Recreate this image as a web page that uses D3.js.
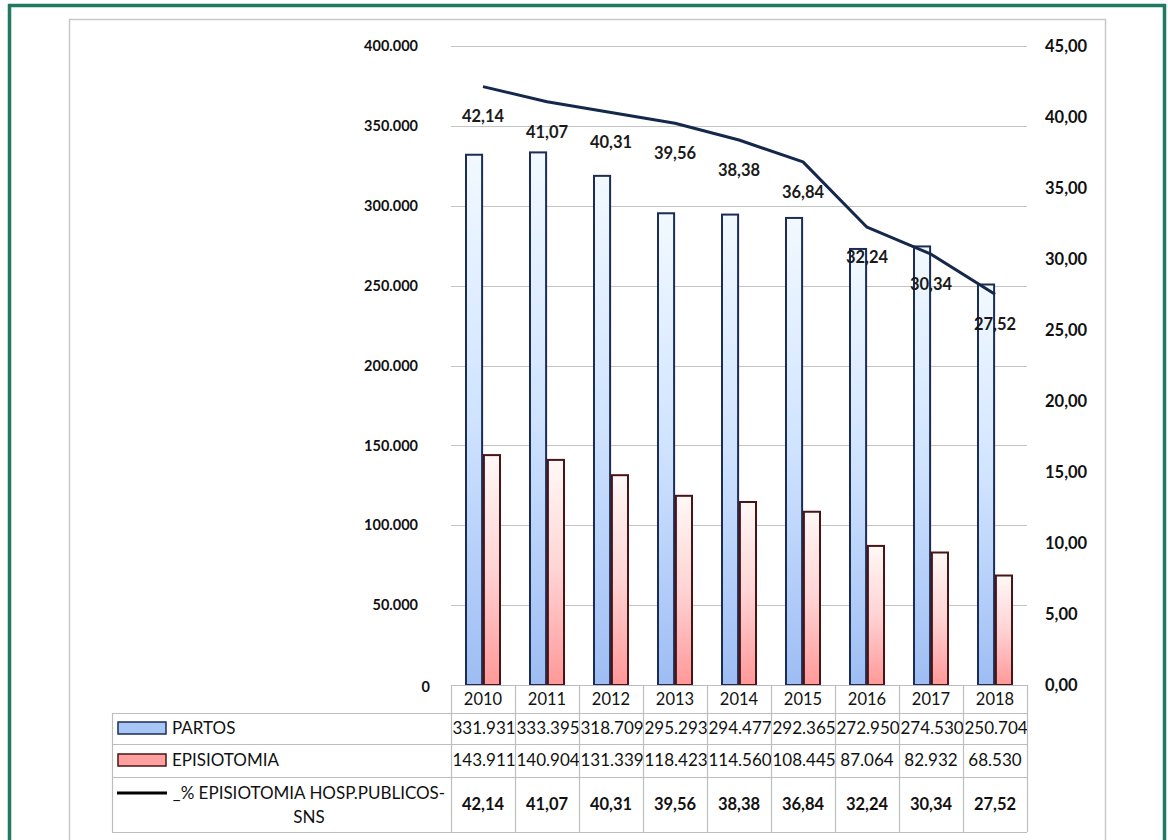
<!DOCTYPE html>
<html>
<head>
<meta charset="utf-8">
<script src="https://cdn.jsdelivr.net/npm/d3@7"></script>
<style>
  body { margin: 0; background: #fff; }
  svg { display: block; font-family: Lato, "Open Sans", sans-serif; }
</style>
</head>
<body>
<svg id="chart" width="1168" height="840"></svg>
<script>

    // values
    const years = ["2010", "2011", "2012", "2013", "2014", "2015", "2016", "2017", "2018"];
    const partos = [331931, 333395, 318709, 295293, 294477, 292365, 272950, 274530, 250704];
    const episiotomia = [143911, 140904, 131339, 118423, 114560, 108445, 87064, 82932, 68530];
    const pctEpisiotomia = [42.14, 41.07, 40.31, 39.56, 38.38, 36.84, 32.24, 30.34, 27.52];
    const leftTicks = [0, 50000, 100000, 150000, 200000, 250000, 300000, 350000, 400000];
    const rightTicks = [0, 5, 10, 15, 20, 25, 30, 35, 40, 45];
    const seriesNames = ["PARTOS", "EPISIOTOMIA", "_% EPISIOTOMIA HOSP.PUBLICOS-SNS"];

    const es = d3.formatLocale({ decimal: ",", thousands: ".", grouping: [3], currency: ["", " €"] });
    const fmtInt = es.format(",d");
    const fmtPct = es.format(",.2f");

    const svg = d3.select("#chart");

    const plot = { left: 451, right: 1027, top: 46, bottom: 685 };
    const rows = { head: [685, 713], partos: [713, 744], epi: [744, 777], pct: [777, 832] };

    // frames
    svg.append("rect").attr("x", 69.5).attr("y", 19.5).attr("width", 1036).attr("height", 900)
        .attr("fill", "none").attr("stroke", "#c8c8c8").attr("stroke-width", 1.5);
    svg.append("rect").attr("x", 9.5).attr("y", 5.5).attr("width", 1155).attr("height", 900)
        .attr("fill", "none").attr("stroke", "#1f7a5f").attr("stroke-width", 3.5);

    const x = d3.scaleBand().domain(years).range([plot.left, plot.right]);
    const xSeries = d3.scaleBand().domain(["partos", "episiotomia"]).range([-17, 17]).paddingInner(0.1);
    const yLeft = d3.scaleLinear().domain([0, 400000]).range([plot.bottom, plot.top]);
    const yRight = d3.scaleLinear().domain([0, 45]).range([plot.bottom, plot.top]);

    // gradients
    const defs = svg.append("defs");
    function addGradient(id, top, mid, bottom) {
        const g = defs.append("linearGradient").attr("id", id)
            .attr("x1", 0).attr("y1", 0).attr("x2", 0).attr("y2", 1);
        g.append("stop").attr("offset", "0%").attr("stop-color", top);
        g.append("stop").attr("offset", "50%").attr("stop-color", mid);
        g.append("stop").attr("offset", "100%").attr("stop-color", bottom);
    }
    addGradient("blueGrad", "#f2f9ff", "#cfe3ff", "#9dbdf3");
    addGradient("redGrad", "#fff8f8", "#ffd3d3", "#ff9898");

    // gridlines
    svg.append("g").selectAll("line").data(leftTicks.filter(d => d > 0)).join("line")
        .attr("x1", plot.left).attr("x2", plot.right)
        .attr("y1", d => Math.round(yLeft(d)) + 0.5).attr("y2", d => Math.round(yLeft(d)) + 0.5)
        .attr("stroke", "#c4c4c4").attr("stroke-width", 1.2);

    // left axis
    const leftAxis = svg.append("g").attr("transform", "translate(418,0)")
        .call(d3.axisLeft(yLeft).tickValues(leftTicks).tickFormat(d => d === 0 ? "0" : fmtInt(d)).tickSize(0).tickPadding(0));
    leftAxis.select(".domain").remove();
    leftAxis.selectAll("text").attr("font-size", 14.5).attr("font-weight", "bold").attr("fill", "#111")
        .attr("font-family", "Lato, sans-serif")
        .attr("dx", d => d === 0 ? 12 : 0).attr("dy", d => d === 0 ? "0.45em" : "0.32em");

    // right axis
    const rightAxis = svg.append("g").attr("transform", "translate(1045,0)")
        .call(d3.axisRight(yRight).tickValues(rightTicks).tickFormat(fmtPct).tickSize(0).tickPadding(0));
    rightAxis.select(".domain").remove();
    rightAxis.selectAll("text").attr("font-size", 16.5).attr("font-weight", "bold").attr("fill", "#111")
        .attr("font-family", "Lato, sans-serif");

    // bars
    const bars = svg.append("g");
    bars.selectAll(".partos").data(years).join("rect").attr("class", "partos")
        .attr("x", d => x(d) + x.bandwidth() / 2 + xSeries("partos"))
        .attr("width", xSeries.bandwidth())
        .attr("y", (d, i) => yLeft(partos[i]))
        .attr("height", (d, i) => yLeft(0) - yLeft(partos[i]))
        .attr("fill", "url(#blueGrad)").attr("stroke", "#1c2c55").attr("stroke-width", 2);
    bars.selectAll(".epi").data(years).join("rect").attr("class", "epi")
        .attr("x", d => x(d) + x.bandwidth() / 2 + xSeries("episiotomia"))
        .attr("width", xSeries.bandwidth())
        .attr("y", (d, i) => yLeft(episiotomia[i]))
        .attr("height", (d, i) => yLeft(0) - yLeft(episiotomia[i]))
        .attr("fill", "url(#redGrad)").attr("stroke", "#4a1414").attr("stroke-width", 2);

    // percentage line
    const line = d3.line()
        .x((d, i) => x(years[i]) + x.bandwidth() / 2)
        .y(d => yRight(d));
    svg.append("path").datum(pctEpisiotomia).attr("d", line)
        .attr("fill", "none").attr("stroke", "#14284b").attr("stroke-width", 3).attr("stroke-linejoin", "round");

    svg.append("g").selectAll("text").data(pctEpisiotomia).join("text")
        .attr("x", (d, i) => x(years[i]) + x.bandwidth() / 2)
        .attr("y", d => yRight(d) + 30)
        .attr("dy", "0.35em")
        .attr("text-anchor", "middle").attr("font-size", 16.5).attr("font-weight", "bold").attr("fill", "#1a1a1a")
        .text(d => fmtPct(d));

    // data table
    const table = svg.append("g").attr("stroke", "#bdbdbd").attr("stroke-width", 1.2);
    table.append("line").attr("x1", plot.left).attr("x2", plot.right).attr("y1", rows.head[0] + 0.5).attr("y2", rows.head[0] + 0.5);
    [rows.partos[0], rows.epi[0], rows.pct[0], rows.pct[1]].forEach(yy => {
        table.append("line").attr("x1", 112).attr("x2", plot.right).attr("y1", yy + 0.5).attr("y2", yy + 0.5);
    });
    table.append("line").attr("x1", 112.5).attr("x2", 112.5).attr("y1", rows.partos[0]).attr("y2", rows.pct[1]);
    years.concat(["end"]).forEach((d, i) => {
        const xx = i < years.length ? x(d) : plot.right;
        table.append("line").attr("x1", Math.round(xx) + 0.5).attr("x2", Math.round(xx) + 0.5)
            .attr("y1", rows.head[0]).attr("y2", rows.pct[1]);
    });

    // clip each column so long numbers are cut like in the table
    years.forEach((d, i) => {
        defs.append("clipPath").attr("id", "col" + i).append("rect")
            .attr("x", x(d) + 1).attr("y", rows.head[0]).attr("width", x.bandwidth() - 1).attr("height", rows.pct[1] - rows.head[0]);
    });

    function cellRow(values, fmt, band, weight, size) {
        const g = svg.append("g").attr("font-size", size).attr("font-weight", weight).attr("fill", "#111");
        g.selectAll("text").data(values).join("text")
            .attr("clip-path", (d, i) => "url(#col" + i + ")")
            .attr("y", (band[0] + band[1]) / 2).attr("dy", "0.35em")
            .text(d => fmt(d))
            .each(function (d, i) {
                const w = this.getComputedTextLength();
                const cx = x(years[i]) + x.bandwidth() / 2;
                if (w > x.bandwidth() - 3) {
                    d3.select(this).attr("x", x(years[i]) + 1.5).attr("text-anchor", "start");
                } else {
                    d3.select(this).attr("x", cx).attr("text-anchor", "middle");
                }
            });
    }
    cellRow(years, d => d, rows.head, "normal", 16.5);
    cellRow(partos, fmtInt, rows.partos, "normal", 17);
    cellRow(episiotomia, fmtInt, rows.epi, "normal", 17);
    cellRow(pctEpisiotomia, fmtPct, rows.pct, "bold", 16.5);

    // legend keys inside the table
    const legend = svg.append("g").attr("font-size", 17).attr("fill", "#111");
    legend.append("rect").attr("x", 118).attr("y", 722).attr("width", 48).attr("height", 12)
        .attr("fill", "#a8c6f5").attr("stroke", "#1c2c55").attr("stroke-width", 1.5);
    legend.append("text").attr("x", 172).attr("y", 728).attr("dy", "0.35em").text(seriesNames[0]);
    legend.append("rect").attr("x", 118).attr("y", 754).attr("width", 48).attr("height", 12)
        .attr("fill", "#ff9f9f").attr("stroke", "#4a1414").attr("stroke-width", 1.5);
    legend.append("text").attr("x", 172).attr("y", 760).attr("dy", "0.35em").text(seriesNames[1]);
    legend.append("line").attr("x1", 117).attr("x2", 167).attr("y1", 793).attr("y2", 793)
        .attr("stroke", "#000").attr("stroke-width", 3);
    const wrapped = legend.append("text").attr("text-anchor", "middle");
    wrapped.append("tspan").attr("x", 309).attr("y", 793).attr("dy", "0.35em").text("_% EPISIOTOMIA HOSP.PUBLICOS-");
    wrapped.append("tspan").attr("x", 309).attr("y", 817).attr("dy", "0.35em").text("SNS");

</script>
</body>
</html>
